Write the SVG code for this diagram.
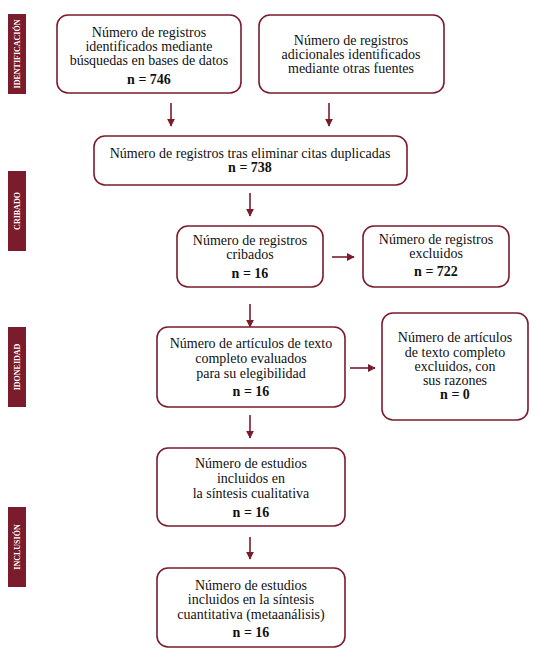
<svg xmlns="http://www.w3.org/2000/svg" width="539" height="657" viewBox="0 0 539 657">
<style>
.box{fill:#fff;stroke:#7a1c2c;stroke-width:1.6}
.t{font-family:'Liberation Serif','DejaVu Serif',serif;font-size:14px;fill:#111;text-anchor:middle}
.b{font-weight:bold}
.bar{fill:#7a1c2c}
.lab{font-family:'Liberation Serif','DejaVu Serif',serif;font-size:8px;font-weight:bold;fill:#fff;text-anchor:middle}
.c{stroke:#7a1c2c;stroke-width:1.6;fill:none;marker-end:url(#ah)}
</style>
<defs>
<marker id="ah" viewBox="0 0 10 10" refX="9" refY="5" markerWidth="5" markerHeight="5" orient="auto" markerUnits="strokeWidth">
<path d="M0,0 L10,5 L0,10 z" fill="#7a1c2c"/>
</marker>
</defs>
<g id="phase-labels">
<rect class="bar" x="8" y="14" width="18" height="80"/>
<text class="lab" transform="translate(19.8,54) rotate(-90)">IDENTIFICACIÓN</text>
<rect class="bar" x="8" y="171" width="18" height="80"/>
<text class="lab" transform="translate(19.8,211) rotate(-90)">CRIBADO</text>
<rect class="bar" x="8" y="327" width="18" height="80"/>
<text class="lab" transform="translate(19.8,367) rotate(-90)">IDONEIDAD</text>
<rect class="bar" x="8" y="507" width="18" height="80"/>
<text class="lab" transform="translate(19.8,547) rotate(-90)">INCLUSIÓN</text>
</g>
<g id="connectors">
<line class="c" x1="171" y1="103" x2="171" y2="126"/>
<line class="c" x1="329" y1="103" x2="329" y2="126"/>
<line class="c" x1="250" y1="193" x2="250" y2="216"/>
<line class="c" x1="332" y1="257" x2="354" y2="257"/>
<line class="c" x1="250" y1="304" x2="250" y2="327"/>
<line class="c" x1="350" y1="368" x2="375" y2="368"/>
<line class="c" x1="250" y1="415" x2="250" y2="438"/>
<line class="c" x1="250" y1="537" x2="250" y2="559"/>
</g>
<g id="n1">
<rect class="box" x="57" y="15" width="184" height="78" rx="11"/>
<text class="t" x="149" y="37">Número de registros</text>
<text class="t" x="149" y="51">identificados mediante</text>
<text class="t" x="149" y="65">búsquedas en bases de datos</text>
<text class="t b" x="149" y="84">n = 746</text>
</g>
<g id="n2">
<rect class="box" x="259" y="15" width="185" height="78" rx="11"/>
<text class="t" x="351" y="45">Número de registros</text>
<text class="t" x="351" y="59">adicionales identificados</text>
<text class="t" x="351" y="73">mediante otras fuentes</text>
</g>
<g id="n3">
<rect class="box" x="94" y="136" width="313" height="49" rx="11"/>
<text class="t" x="250" y="158">Número de registros tras eliminar citas duplicadas</text>
<text class="t b" x="250" y="172">n = 738</text>
</g>
<g id="n4">
<rect class="box" x="177" y="226" width="146" height="61" rx="11"/>
<text class="t" x="250" y="245">Número de registros</text>
<text class="t" x="250" y="259">cribados</text>
<text class="t b" x="250" y="278">n = 16</text>
</g>
<g id="n5">
<rect class="box" x="363" y="226" width="146" height="61" rx="11"/>
<text class="t" x="436" y="244">Número de registros</text>
<text class="t" x="436" y="258">excluidos</text>
<text class="t b" x="436" y="276">n = 722</text>
</g>
<g id="n6">
<rect class="box" x="157" y="327" width="188" height="80" rx="11"/>
<text class="t" x="251" y="348">Número de artículos de texto</text>
<text class="t" x="251" y="363">completo evaluados</text>
<text class="t" x="251" y="378">para su elegibilidad</text>
<text class="t b" x="251" y="396">n = 16</text>
</g>
<g id="n7">
<rect class="box" x="382" y="313" width="146" height="107" rx="11"/>
<text class="t" x="455" y="342">Número de artículos</text>
<text class="t" x="455" y="357">de texto completo</text>
<text class="t" x="455" y="371">excluidos, con</text>
<text class="t" x="455" y="385">sus razones</text>
<text class="t b" x="455" y="399">n = 0</text>
</g>
<g id="n8">
<rect class="box" x="157" y="448" width="188" height="78" rx="11"/>
<text class="t" x="251" y="468">Número de estudios</text>
<text class="t" x="251" y="483">incluidos en</text>
<text class="t" x="251" y="498">la síntesis cualitativa</text>
<text class="t b" x="251" y="517">n = 16</text>
</g>
<g id="n9">
<rect class="box" x="157" y="568" width="188" height="79" rx="11"/>
<text class="t" x="251" y="590">Número de estudios</text>
<text class="t" x="251" y="604">incluidos en la síntesis</text>
<text class="t" x="251" y="619">cuantitativa (metaanálisis)</text>
<text class="t b" x="251" y="637">n = 16</text>
</g>
</svg>
